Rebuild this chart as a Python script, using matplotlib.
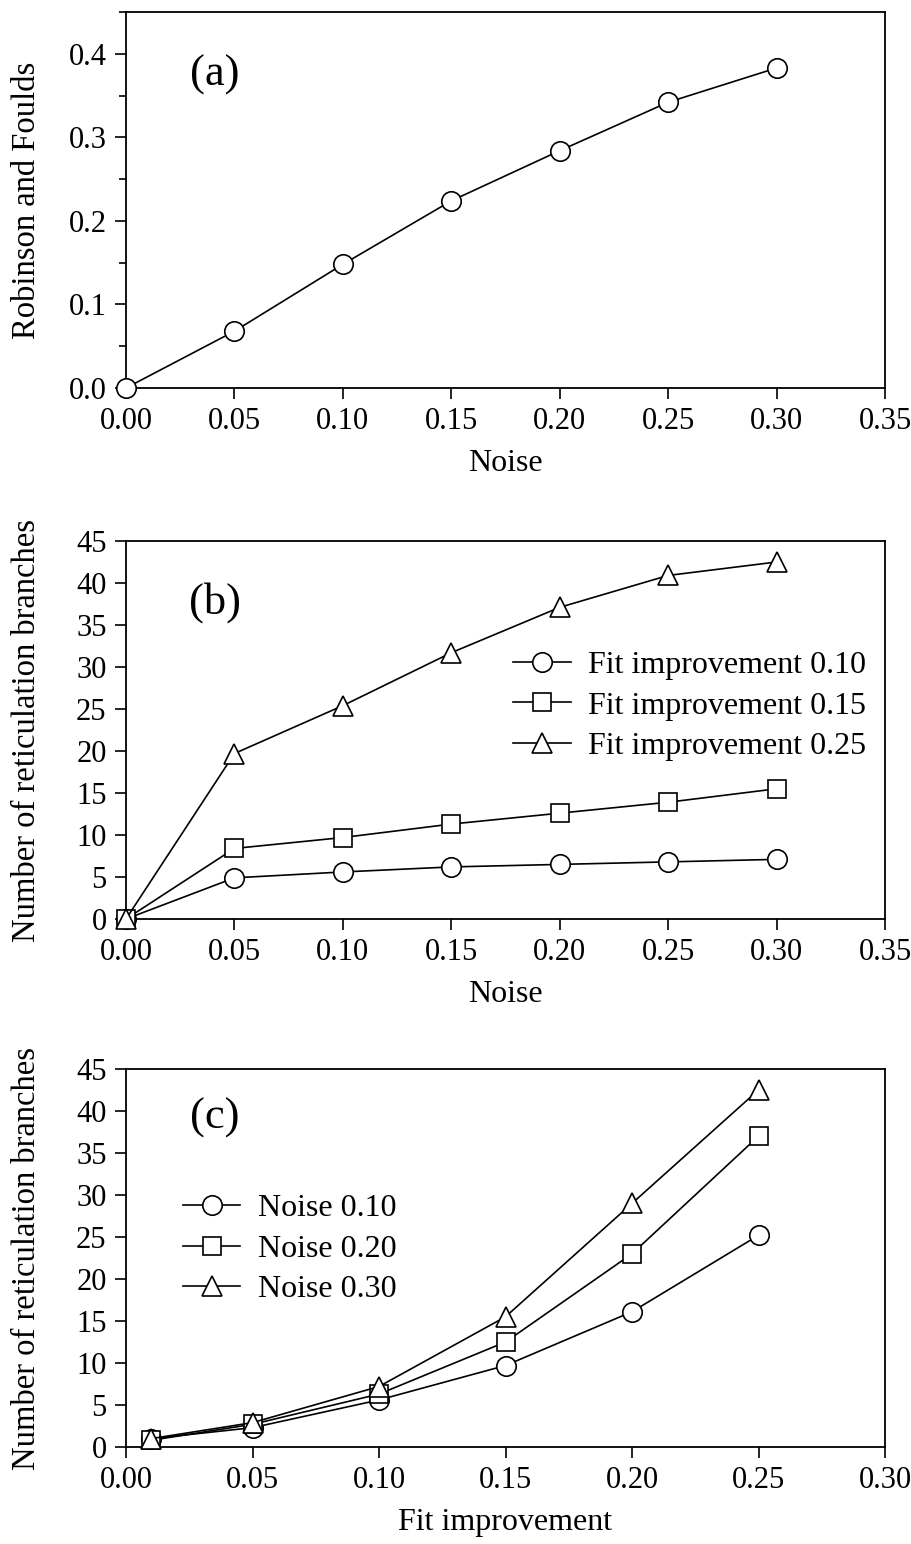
import matplotlib
matplotlib.use("Agg")
import matplotlib.pyplot as plt
from matplotlib.ticker import MultipleLocator

plt.rcParams['font.family'] = ['Liberation Serif', 'DejaVu Serif']
plt.rcParams['mathtext.fontset'] = 'stix'

# Panel (a)
noise_a = [0.00, 0.05, 0.10, 0.15, 0.20, 0.25, 0.30]
rf_a = [0.0, 0.068, 0.148, 0.224, 0.284, 0.342, 0.383]

# Panel (b)
noise_b = [0.00, 0.05, 0.10, 0.15, 0.20, 0.25, 0.30]
fit010 = [0, 4.9, 5.6, 6.2, 6.5, 6.8, 7.1]
fit015 = [0, 8.4, 9.7, 11.3, 12.6, 13.9, 15.5]
fit025 = [0, 19.7, 25.4, 31.7, 37.1, 40.9, 42.5]
labels_b = ["Fit improvement 0.10", "Fit improvement 0.15", "Fit improvement 0.25"]

# Panel (c)
fit_c = [0.01, 0.05, 0.10, 0.15, 0.20, 0.25]
noise010 = [1.0, 2.3, 5.6, 9.7, 16.1, 25.2]
noise020 = [0.8, 2.7, 6.3, 12.5, 23.0, 37.0]
noise030 = [1.0, 2.9, 7.2, 15.5, 29.0, 42.5]
labels_c = ["Noise 0.10", "Noise 0.20", "Noise 0.30"]

FS = 22
FS_L = 23
MS = 14
LW = 1.2

fig = plt.figure(figsize=(9.11, 15.44), dpi=100)
W, H = 911, 1544

def axes_px(left, right, top, bottom):
    return fig.add_axes([left / W, 1 - bottom / H, (right - left) / W, (bottom - top) / H])

ax_a = axes_px(126, 885, 12, 388)
ax_b = axes_px(126, 885, 541, 919)
ax_c = axes_px(126, 885, 1069, 1447)

mk = dict(color='black', lw=LW, markerfacecolor='white', markeredgecolor='black',
          markeredgewidth=1.2, clip_on=False, zorder=3)

def style(ax):
    for s in ax.spines.values():
        s.set_linewidth(1.3)
    ax.tick_params(axis='both', which='major', direction='out', length=8, width=1.2,
                   labelsize=FS, pad=6)
    ax.tick_params(axis='both', which='minor', direction='out', length=5, width=1.2)

# (a)
ax_a.plot(noise_a, rf_a, marker='o', markersize=MS, **mk)
ax_a.set_xlim(0, 0.35)
ax_a.set_ylim(0, 0.45)
ax_a.xaxis.set_major_locator(MultipleLocator(0.05))
ax_a.set_yticks([0.0, 0.1, 0.2, 0.3, 0.4])
ax_a.yaxis.set_minor_locator(MultipleLocator(0.05))
ax_a.xaxis.set_major_formatter(lambda v, p: f"{v:.2f}")
ax_a.yaxis.set_major_formatter(lambda v, p: f"{v:.1f}")
style(ax_a)
ax_a.set_xlabel("Noise", fontsize=FS_L, labelpad=9)
ax_a.text(0.117, 0.832, "(a)", transform=ax_a.transAxes, fontsize=32, ha='center', va='center')

# (b)
ax_b.plot(noise_b, fit010, marker='o', markersize=MS, label=labels_b[0], **mk)
ax_b.plot(noise_b, fit015, marker='s', markersize=MS - 1, label=labels_b[1], **mk)
ax_b.plot(noise_b, fit025, marker='^', markersize=MS + 1, label=labels_b[2], **mk)
ax_b.set_xlim(0, 0.35)
ax_b.set_ylim(0, 45)
ax_b.xaxis.set_major_locator(MultipleLocator(0.05))
ax_b.yaxis.set_major_locator(MultipleLocator(5))
ax_b.xaxis.set_major_formatter(lambda v, p: f"{v:.2f}")
style(ax_b)
ax_b.set_xlabel("Noise", fontsize=FS_L, labelpad=9)
ax_b.text(0.117, 0.836, "(b)", transform=ax_b.transAxes, fontsize=32, ha='center', va='center')
ax_b.legend(loc='upper left', bbox_to_anchor=(0.51, 0.709), frameon=False, fontsize=FS_L,
            handlelength=1.8, handletextpad=0.55, labelspacing=0.34, borderpad=0,
            borderaxespad=0)

# (c)
ax_c.plot(fit_c, noise010, marker='o', markersize=MS, label=labels_c[0], **mk)
ax_c.plot(fit_c, noise020, marker='s', markersize=MS - 1, label=labels_c[1], **mk)
ax_c.plot(fit_c, noise030, marker='^', markersize=MS + 1, label=labels_c[2], **mk)
ax_c.set_xlim(0, 0.30)
ax_c.set_ylim(0, 45)
ax_c.xaxis.set_major_locator(MultipleLocator(0.05))
ax_c.yaxis.set_major_locator(MultipleLocator(5))
ax_c.xaxis.set_major_formatter(lambda v, p: f"{v:.2f}")
style(ax_c)
ax_c.set_xlabel("Fit improvement", fontsize=FS_L, labelpad=9)
ax_c.text(0.117, 0.870, "(c)", transform=ax_c.transAxes, fontsize=32, ha='center', va='center')
ax_c.legend(loc='upper left', bbox_to_anchor=(0.075, 0.669), frameon=False, fontsize=FS_L,
            handlelength=1.8, handletextpad=0.55, labelspacing=0.34, borderpad=0,
            borderaxespad=0)

# y labels
fig.text(27 / W, 1 - 200 / H, "Robinson and Foulds", rotation=90, fontsize=23.5,
         ha='center', va='center')
fig.text(27 / W, 1 - 731 / H, "Number of reticulation branches", rotation=90, fontsize=23.5,
         ha='center', va='center')
fig.text(27 / W, 1 - 1258 / H, "Number of reticulation branches", rotation=90, fontsize=23.5,
         ha='center', va='center')

fig.savefig("out.png", dpi=100, facecolor='white')
